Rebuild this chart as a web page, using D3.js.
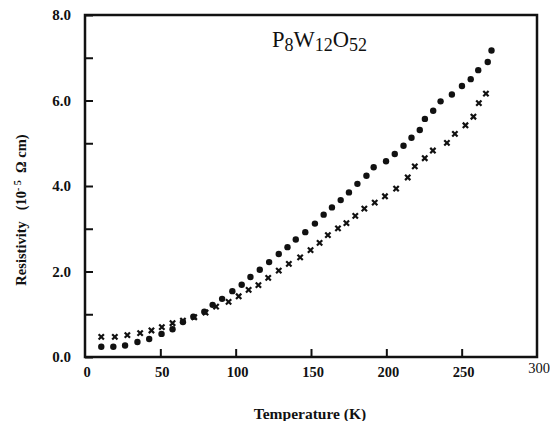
<!DOCTYPE html>
<html><head><meta charset="utf-8">
<script src="https://cdn.jsdelivr.net/npm/d3@7"></script>
<style>body{margin:0;background:#fff}svg{display:block}</style>
</head><body>
<script>
// Data
const circleT = [10.8,18.8,26.6,34.8,42.6,50.8,58.1,65.0,71.9,79.2,84.7,91.0,97.8,104.0,109.8,116.0,122.2,128.6,134.4,139.9,146.2,152.6,158.4,163.9,169.7,175.2,180.8,186.8,191.6,199.8,205.6,211.4,216.7,222.2,225.6,231.1,236.0,243.5,250.2,256.0,261.0,267.3,269.8];
const circleR = [0.24,0.24,0.27,0.35,0.42,0.54,0.65,0.82,0.94,1.06,1.22,1.36,1.54,1.69,1.87,2.04,2.22,2.41,2.57,2.75,2.92,3.12,3.33,3.50,3.67,3.85,4.05,4.24,4.44,4.58,4.75,4.94,5.13,5.31,5.57,5.76,5.98,6.14,6.34,6.50,6.71,6.90,7.17];
const crossT = [10.8,19.8,28.1,36.6,44.1,51.0,58.1,65.0,72.5,80.0,87.0,95.3,102.0,108.6,115.1,121.6,128.6,135.3,142.8,149.7,155.7,161.2,167.9,173.5,179.4,185.4,192.3,199.1,206.5,214.2,218.9,225.5,230.9,240.2,245.5,252.5,257.8,261.4,266.1];
const crossR = [0.47,0.47,0.51,0.56,0.62,0.70,0.79,0.85,0.93,1.04,1.18,1.29,1.42,1.57,1.68,1.85,2.02,2.18,2.33,2.50,2.67,2.85,3.01,3.13,3.30,3.47,3.61,3.76,3.94,4.20,4.46,4.65,4.83,5.01,5.22,5.42,5.62,5.94,6.16];
const xTickValues = [0,50,100,150,200,250,300];
const yTickValues = [0,1,2,3,4,5,6,7,8];
const yLabelValues = [0,2,4,6,8];

const W = 550, H = 421;
const svg = d3.select("body").append("svg").attr("width", W).attr("height", H);
const x = d3.scaleLinear().domain([0, 300]).range([85, 537]);
const y = d3.scaleLinear().domain([0, 8]).range([357, 15]);
const serif = "'Liberation Serif','Times New Roman',serif";

// frame
svg.append("rect").attr("x", x(0)).attr("y", y(8))
  .attr("width", x(300) - x(0)).attr("height", y(0) - y(8))
  .attr("fill", "none").attr("stroke", "#111").attr("stroke-width", 2.5);

// y axis (inward ticks)
const yAxis = d3.axisRight(y).tickValues(yTickValues).tickSize(8).tickFormat("");
const gy = svg.append("g").attr("transform", `translate(${x(0)},0)`).call(yAxis);
gy.select(".domain").remove();
gy.selectAll(".tick line").attr("stroke", "#111").attr("stroke-width", 2);

svg.append("g").selectAll("text").data(yLabelValues).join("text")
  .attr("x", 71).attr("y", d => y(d)).attr("dy", "0.35em")
  .attr("text-anchor", "end").attr("font-family", serif).attr("font-weight", "bold")
  .attr("font-size", 15).attr("fill", "#111").text(d => d.toFixed(1));

// x axis (inward ticks)
const xAxis = d3.axisTop(x).tickValues(xTickValues.filter(v => v > 0 && v < 300)).tickSize(8).tickFormat("");
const gx = svg.append("g").attr("transform", `translate(0,${y(0)})`).call(xAxis);
gx.select(".domain").remove();
gx.selectAll(".tick line").attr("stroke", "#111").attr("stroke-width", 2);

svg.append("g").selectAll("text").data(xTickValues).join("text")
  .attr("x", d => x(d) + 2).attr("y", d => d === 300 ? 373 : 377)
  .attr("text-anchor", "middle").attr("font-family", serif)
  .attr("font-weight", d => d === 300 ? "normal" : "bold")
  .attr("font-size", 14.5).attr("fill", "#111").text(d => d);

// axis titles
svg.append("text").attr("x", 310).attr("y", 419).attr("text-anchor", "middle")
  .attr("font-family", serif).attr("font-weight", "bold").attr("font-size", 15.5)
  .attr("fill", "#111").text("Temperature (K)");

const yt = svg.append("text").attr("transform", "translate(26,210) rotate(-90)")
  .attr("text-anchor", "middle").attr("font-family", serif).attr("font-weight", "bold")
  .attr("font-size", 14.5).attr("fill", "#111");
yt.append("tspan").text("Resistivity\u00a0\u00a0\u00a0(10");
yt.append("tspan").attr("dy", -5).attr("font-size", 10).text("-\u00a05");
yt.append("tspan").attr("dy", 5).text("\u00a0\u00a0Ω cm)");

// chart title with subscripts
const tt = svg.append("text").attr("x", 272).attr("y", 47)
  .attr("font-family", serif).attr("font-size", 22.5).attr("fill", "#111");
tt.append("tspan").text("P");
tt.append("tspan").attr("dy", 4).attr("font-size", 18).text("8");
tt.append("tspan").attr("dy", -4).text("W");
tt.append("tspan").attr("dy", 4).attr("font-size", 18).text("12");
tt.append("tspan").attr("dy", -4).text("O");
tt.append("tspan").attr("dy", 4).attr("font-size", 18).text("52");

// circles
const circles = circleT.map((t, i) => ({t, r: circleR[i]}));
svg.append("g").selectAll("circle").data(circles).join("circle")
  .attr("cx", d => x(d.t)).attr("cy", d => y(d.r)).attr("r", 3.2)
  .attr("fill", "#111");

// crosses
const crosses = crossT.map((t, i) => ({t, r: crossR[i]}));
const xSym = d3.symbol().type(d3.symbolX).size(20);
svg.append("g").selectAll("path").data(crosses).join("path")
  .attr("transform", d => `translate(${x(d.t)},${y(d.r)})`)
  .attr("d", xSym).attr("fill", "none").attr("stroke", "#111").attr("stroke-width", 2.2);
</script>
</body></html>
